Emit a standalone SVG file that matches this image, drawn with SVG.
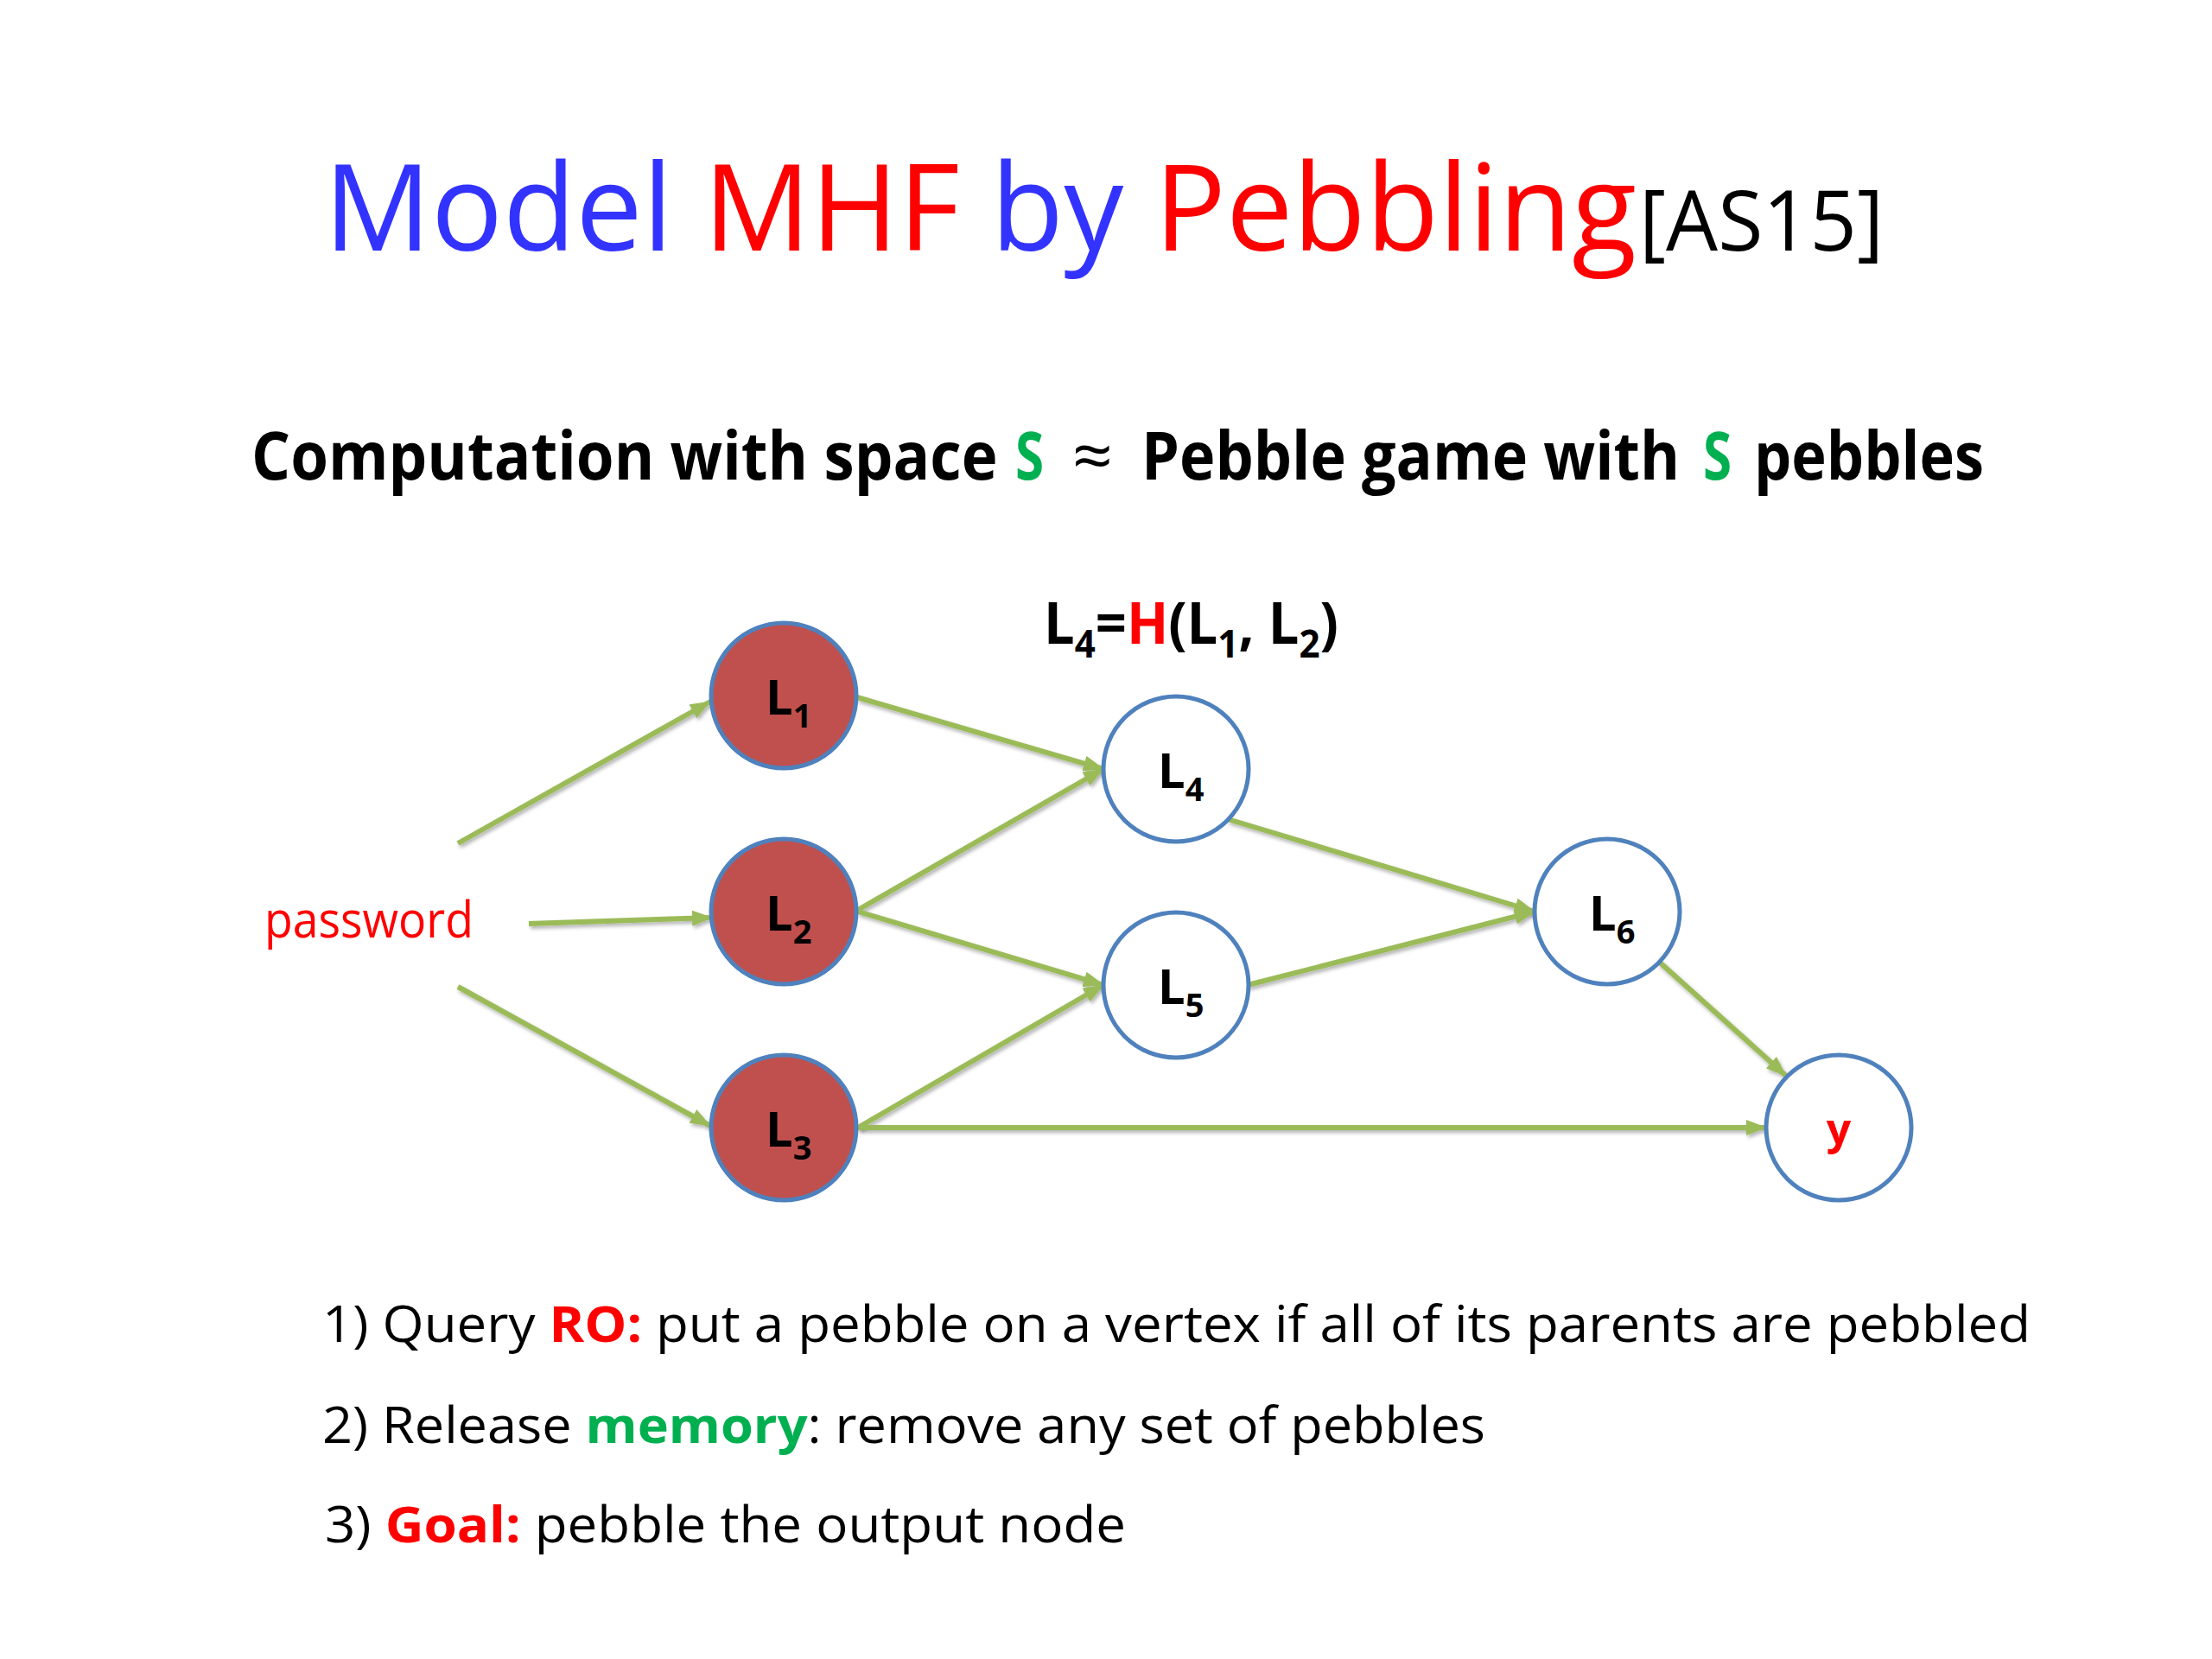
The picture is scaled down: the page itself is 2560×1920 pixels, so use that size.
<svg xmlns="http://www.w3.org/2000/svg" width="2560" height="1920" viewBox="0 0 2560 1920">
<style>
  .t { font-family: "Open Sans", "Noto Sans", "DejaVu Sans", sans-serif; }
  .b { font-weight: bold; }
  .blue { fill: #3333FF; }
  .red { fill: #FF0000; }
  .grn { fill: #00B050; }
  .blk { fill: #000000; }
  .edge { stroke: #9BBB59; stroke-width: 6; fill: none; marker-end: url(#arr); filter: url(#sh); }
  .filled { fill: #C0504D; stroke: #4F81BD; stroke-width: 5; }
  .empty { fill: #FFFFFF; stroke: #4F81BD; stroke-width: 5; }
  .lbl { font-family: "Open Sans", "Noto Sans", sans-serif; font-weight: bold; font-size: 56px; fill: #000; }
</style>
<defs>
  <marker id="arr" markerUnits="userSpaceOnUse" markerWidth="24" markerHeight="18" refX="23" refY="9" orient="auto">
    <path d="M0,0 L24,9 L0,18 z" fill="#9BBB59"/>
  </marker>
  <filter id="sh" filterUnits="userSpaceOnUse" x="0" y="0" width="2560" height="1920">
    <feDropShadow dx="2" dy="3" stdDeviation="2" flood-color="#000" flood-opacity="0.3"/>
  </filter>
</defs>
<rect width="2560" height="1920" fill="#FFFFFF"/>

<g id="title">
  <text class="t" x="375" y="290" font-size="140" textLength="1519" lengthAdjust="spacingAndGlyphs"><tspan class="blue">Model </tspan><tspan class="red">MHF </tspan><tspan class="blue">by </tspan><tspan class="red">Pebbling</tspan></text>
  <text class="t blk" x="1897" y="290" font-size="97" textLength="283" lengthAdjust="spacingAndGlyphs">[AS15]</text>
</g>

<g id="subtitle" class="t b" font-size="77">
  <text class="blk" transform="translate(291 555) scale(0.85 1)" x="0" y="0" textLength="1016" lengthAdjust="spacingAndGlyphs">Computation with space</text>
  <text class="grn" transform="translate(1175 555) scale(0.85 1)" x="0" y="0" textLength="39" lengthAdjust="spacingAndGlyphs">S</text>
  <text class="blk" transform="translate(1241 555) scale(0.85 1)" x="0" y="0" textLength="55" lengthAdjust="spacingAndGlyphs" font-weight="normal">≈</text>
  <text class="blk" transform="translate(1321 555) scale(0.85 1)" x="0" y="0" textLength="733" lengthAdjust="spacingAndGlyphs">Pebble game with</text>
  <text class="grn" transform="translate(1971 555) scale(0.85 1)" x="0" y="0" textLength="39" lengthAdjust="spacingAndGlyphs">S</text>
  <text class="blk" transform="translate(2030 555) scale(0.85 1)" x="0" y="0" textLength="313" lengthAdjust="spacingAndGlyphs">pebbles</text>
</g>

<g id="formula">
  <text class="t b blk" x="1208" y="745" font-size="66" textLength="341" lengthAdjust="spacingAndGlyphs">L<tspan font-size="44" dy="16">4</tspan><tspan dy="-16">=</tspan><tspan class="red">H</tspan>(L<tspan font-size="44" dy="16">1</tspan><tspan dy="-16">, L</tspan><tspan font-size="44" dy="16">2</tspan><tspan dy="-16">)</tspan></text>
</g>

<g id="password">
  <text class="t red" x="306" y="1085" font-size="58" textLength="242" lengthAdjust="spacingAndGlyphs">password</text>
</g>

<g id="connectors">
  <line class="edge" x1="530" y1="976" x2="822" y2="812"/>
  <line class="edge" x1="612" y1="1069" x2="824" y2="1062"/>
  <line class="edge" x1="530" y1="1142" x2="822" y2="1303"/>
  <line class="edge" x1="992" y1="807" x2="1277" y2="890"/>
  <line class="edge" x1="993" y1="1053" x2="1277" y2="890"/>
  <line class="edge" x1="993" y1="1055" x2="1277" y2="1140"/>
  <line class="edge" x1="993" y1="1305" x2="1277" y2="1140"/>
  <line class="edge" x1="993" y1="1305" x2="2044" y2="1305"/>
  <line class="edge" x1="1421" y1="948" x2="1776" y2="1055"/>
  <line class="edge" x1="1444" y1="1140" x2="1776" y2="1055"/>
  <line class="edge" x1="1920" y1="1113" x2="2067" y2="1245"/>
</g>

<g id="node-L1">
  <circle class="filled" cx="907" cy="805" r="84"/>
  <text class="lbl" x="886" y="827">L<tspan font-size="38" dy="15">1</tspan></text>
</g>
<g id="node-L2">
  <circle class="filled" cx="907" cy="1055" r="84"/>
  <text class="lbl" x="886" y="1077">L<tspan font-size="38" dy="15">2</tspan></text>
</g>
<g id="node-L3">
  <circle class="filled" cx="907" cy="1305" r="84"/>
  <text class="lbl" x="886" y="1327">L<tspan font-size="38" dy="15">3</tspan></text>
</g>
<g id="node-L4">
  <circle class="empty" cx="1361" cy="890" r="84"/>
  <text class="lbl" x="1340" y="912">L<tspan font-size="38" dy="15">4</tspan></text>
</g>
<g id="node-L5">
  <circle class="empty" cx="1361" cy="1140" r="84"/>
  <text class="lbl" x="1340" y="1162">L<tspan font-size="38" dy="15">5</tspan></text>
</g>
<g id="node-L6">
  <circle class="empty" cx="1860" cy="1055" r="84"/>
  <text class="lbl" x="1839" y="1077">L<tspan font-size="38" dy="15">6</tspan></text>
</g>
<g id="node-y">
  <circle class="empty" cx="2128" cy="1305" r="84"/>
  <text class="t b red" x="2128" y="1324" font-size="50" text-anchor="middle">y</text>
</g>

<g id="rules">
  <text class="t blk" x="373" y="1553" font-size="58" textLength="1977" lengthAdjust="spacingAndGlyphs">1) Query <tspan class="red b">RO:</tspan> put a pebble on a vertex if all of its parents are pebbled</text>
  <text class="t blk" x="373" y="1670" font-size="58" textLength="1346" lengthAdjust="spacingAndGlyphs">2) Release <tspan class="grn b">memory</tspan>: remove any set of pebbles</text>
  <text class="t blk" x="376" y="1785" font-size="58" textLength="927" lengthAdjust="spacingAndGlyphs">3) <tspan class="red b">Goal:</tspan> pebble the output node</text>
</g>
</svg>
